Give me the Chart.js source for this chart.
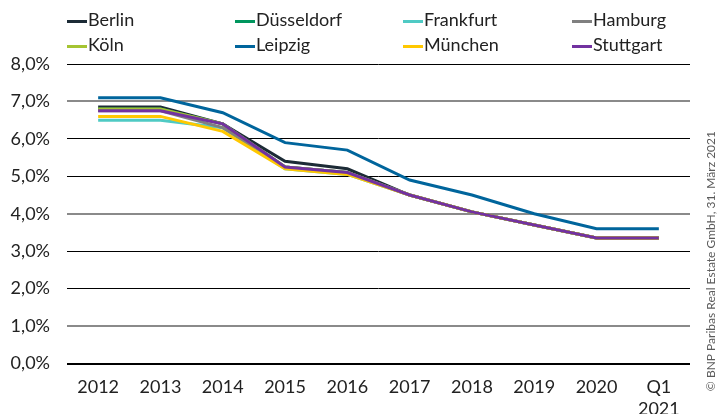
<!DOCTYPE html>
<html>
<head>
<meta charset="utf-8">
<script src="https://cdn.jsdelivr.net/npm/chart.js@4/dist/chart.umd.min.js"></script>
<style>
  html, body { margin: 0; padding: 0; background: #ffffff; }
  #wrap { position: relative; width: 719px; height: 414px; }
</style>
</head>
<body>
<div id="wrap"><canvas id="c" width="719" height="414"></canvas></div>
<script>
const categories = ['2012', '2013', '2014', '2015', '2016', '2017', '2018', '2019', '2020', ['Q1', '2021']];
const seriesNames = ['Berlin', 'Düsseldorf', 'Frankfurt', 'Hamburg', 'Köln', 'Leipzig', 'München', 'Stuttgart'];
const berlin     = [6.85, 6.85, 6.40, 5.40, 5.20, 4.50, 4.05, 3.70, 3.35, 3.35];
const duesseldorf= [6.80, 6.80, 6.40, 5.25, 5.10, 4.50, 4.05, 3.70, 3.35, 3.35];
const frankfurt  = [6.50, 6.50, 6.30, 5.20, 5.05, 4.50, 4.05, 3.70, 3.35, 3.35];
const hamburg    = [6.75, 6.75, 6.30, 5.25, 5.10, 4.50, 4.05, 3.70, 3.35, 3.35];
const koeln      = [6.80, 6.80, 6.40, 5.25, 5.10, 4.50, 4.05, 3.70, 3.35, 3.35];
const leipzig    = [7.10, 7.10, 6.70, 5.90, 5.70, 4.90, 4.50, 4.00, 3.60, 3.60];
const muenchen   = [6.60, 6.60, 6.20, 5.20, 5.05, 4.50, 4.05, 3.70, 3.35, 3.35];
const stuttgart  = [6.75, 6.75, 6.40, 5.25, 5.10, 4.50, 4.05, 3.70, 3.35, 3.35];
const seriesValues = [berlin, duesseldorf, frankfurt, hamburg, koeln, leipzig, muenchen, stuttgart];
const seriesColors = ['#1c2b36', '#00965e', '#4fcac4', '#808080', '#a5c432', '#00659c', '#ffc800', '#7232a0'];
const yTicks = [0, 1, 2, 3, 4, 5, 6, 7, 8];
const sourceText = '© BNP Paribas Real Estate GmbH, 31. März 2021';

const FONT = 'Lato, "Open Sans", sans-serif';
const TEXT = '#222222';

const datasets = seriesNames.map((name, i) => ({
  label: name,
  data: seriesValues[i],
  borderColor: seriesColors[i],
  backgroundColor: seriesColors[i],
  borderWidth: 3,
  pointRadius: 0,
  pointHoverRadius: 0,
  tension: 0,
  fill: false,
  order: seriesNames.length - i
}));

const legendPlugin = {
  id: 'customLegend',
  afterDraw(chart) {
    const ctx = chart.ctx;
    const cols = [67, 235, 403, 572];
    const rows = [20, 45];
    ctx.save();
    ctx.font = '18px ' + FONT;
    ctx.textBaseline = 'middle';
    ctx.textAlign = 'left';
    seriesNames.forEach((name, i) => {
      const x = cols[i % 4];
      const y = rows[Math.floor(i / 4)];
      ctx.strokeStyle = seriesColors[i];
      ctx.lineWidth = 3;
      ctx.beginPath();
      ctx.moveTo(x, y + 1.5);
      ctx.lineTo(x + 20, y + 1.5);
      ctx.stroke();
      ctx.fillStyle = TEXT;
      ctx.fillText(name, x + 21, y);
    });
    ctx.translate(711, 131);
    ctx.rotate(-Math.PI / 2);
    ctx.font = '12px ' + FONT;
    ctx.fillStyle = '#5a5a5a';
    ctx.textAlign = 'right';
    ctx.textBaseline = 'middle';
    ctx.fillText(sourceText, 0, 0);
    ctx.restore();
  }
};

new Chart(document.getElementById('c'), {
  type: 'line',
  data: { labels: categories, datasets },
  plugins: [legendPlugin],
  options: {
    responsive: false,
    animation: false,
    devicePixelRatio: 1,
    layout: { padding: { top: 64, right: 29, left: 0, bottom: 0 } },
    plugins: { legend: { display: false }, tooltip: { enabled: false }, title: { display: false } },
    scales: {
      x: {
        offset: true,
        grid: { display: false },
        border: { display: false },
        ticks: {
          color: TEXT,
          font: { family: FONT, size: 18, lineHeight: 1.2 },
          padding: 5,
          maxRotation: 0,
          autoSkip: false
        },
        afterFit(scale) { scale.height = 50.5; }
      },
      y: {
        min: 0,
        max: 8,
        border: { display: false },
        afterBuildTicks(scale) { scale.ticks = yTicks.map(v => ({ value: v })); },
        grid: {
          drawTicks: false,
          color(ctx) {
            const v = ctx.tick && ctx.tick.value;
            if (v === 7 || v === 4 || v === 1) return '#8a8a8a';
            return '#000000';
          },
          lineWidth(ctx) {
            const v = ctx.tick && ctx.tick.value;
            if (v === 7 || v === 4 || v === 1 || v === 0) return 2;
            return 1;
          }
        },
        ticks: {
          color: TEXT,
          font: { family: FONT, size: 18 },
          padding: 17,
          callback(v) { return v.toFixed(1).replace('.', ',') + '%'; }
        },
        afterFit(scale) { scale.width = 67; }
      }
    }
  }
});
</script>
</body>
</html>
